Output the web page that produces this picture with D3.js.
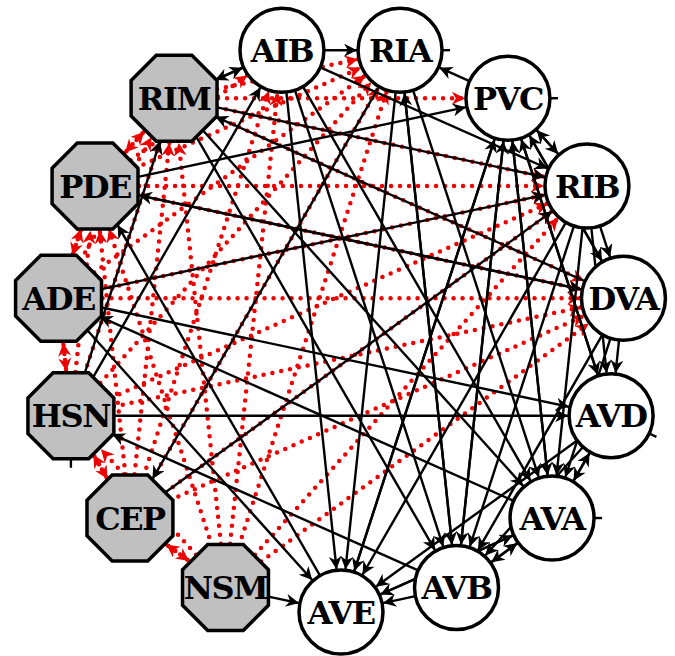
<!DOCTYPE html>
<html>
<head>
<meta charset="utf-8">
<script src="https://cdn.jsdelivr.net/npm/d3@7"></script>
<style>
  body { margin: 0; background: #fff; }
  svg { display: block; }
</style>
</head>
<body>
<div id="net"></div>
<script>
// neurons, clockwise from the bottom
const neurons = ["AVE", "NSM", "CEP", "HSN", "ADE", "PDE", "RIM", "AIB",
                 "RIA", "PVC", "RIB", "DVA", "AVD", "AVA", "AVB"];
// monoaminergic neurons drawn as grey octagons
const amines = ["NSM", "CEP", "HSN", "ADE", "PDE", "RIM"];

// synaptic connections (black, solid) source -> target
const synSource = ["AIB","AIB","RIM","AIB","AIB","AIB","AIB","RIM","RIM","RIM","DVA","HSN","HSN",
                   "PDE","PDE","DVA","AVE","ADE","AVA","ADE","ADE","HSN","AVB","RIA","CEP","NSM",
                   "RIA","RIA","RIA","PVC","RIB","PVC","RIB","PVC","PVC","PVC","PVC","AVA","AVE",
                   "AVD","AVB","RIB","RIB","RIB","RIB","DVA","DVA","DVA","DVA","AVD","AVA","AVD",
                   "AVD","AVA","AVB","AVA","AVB","AVE","AVB","PVC"];
const synTarget = ["RIA","RIM","AIB","AVE","AVB","AVA","RIB","AVB","AVA","RIB","RIM","RIM","AIB",
                   "PVC","DVA","PDE","PDE","AVD","ADE","AVE","RIB","AVD","HSN","CEP","RIB","AVE",
                   "AVE","AVB","AVA","RIB","PVC","AVE","AVE","AVB","AVA","AVD","DVA","PVC","PVC",
                   "PVC","PVC","DVA","AVD","AVA","AVB","AVD","AVA","AVB","PVC","AVA","AVD","AVB",
                   "AVE","AVB","AVA","AVE","AVE","AVA","RIA","RIA"];

// extrasynaptic monoamine connections (red, dotted) source -> target
const extSource = ["RIM","RIM","RIM","RIM","RIM",
                   "PDE","PDE","PDE","PDE","PDE","PDE",
                   "ADE","ADE","ADE","ADE","ADE","ADE",
                   "HSN","HSN","HSN","HSN","HSN","HSN","HSN",
                   "CEP","CEP","CEP","CEP","CEP","CEP","CEP","CEP",
                   "NSM","NSM","NSM","NSM","NSM","NSM","NSM","NSM"];
const extTarget = ["PVC","RIA","RIB","DVA","PDE",
                   "RIA","RIB","DVA","RIM","ADE","AIB",
                   "RIA","RIB","DVA","PDE","HSN","RIM",
                   "RIA","RIB","DVA","ADE","CEP","RIM","PDE",
                   "RIA","RIB","DVA","HSN","NSM","RIM","PDE","AIB",
                   "AIB","RIB","DVA","CEP","PDE","RIM","HSN","RIA"];

// short self-connection stubs: neuron and outward direction (degrees)
const stubNode = ["RIA", "PVC", "AVD", "AVA", "HSN"];
const stubDir = [0, 0, 25, 0, 90];

const width = 675, height = 656;
const cx = 341, cy = 328, ringR = 284;
const nodeR = 42, octR = 46.5;

const svg = d3.select("#net").append("svg")
  .attr("width", width)
  .attr("height", height);

const angle = d3.scaleLinear()
  .domain([0, neurons.length])
  .range([Math.PI / 2, Math.PI / 2 + 2 * Math.PI]);

const pos = {};
neurons.forEach(function(n, i) {
  pos[n] = { x: cx + ringR * Math.cos(angle(i)), y: cy + ringR * Math.sin(angle(i)) };
});

function radiusOf(n) { return amines.includes(n) ? 44 : nodeR; }

function link(s, t, pad) {
  const a = pos[s], b = pos[t];
  const dx = b.x - a.x, dy = b.y - a.y;
  const d = Math.sqrt(dx * dx + dy * dy);
  const ux = dx / d, uy = dy / d;
  const rs = radiusOf(s), rt = radiusOf(t) + (pad || 0);
  return { x1: a.x + ux * rs, y1: a.y + uy * rs, x2: b.x - ux * rt, y2: b.y - uy * rt };
}

const defs = svg.append("defs");
[["arrowBlack", "#000"], ["arrowRed", "#ee0000"]].forEach(function(m) {
  defs.append("marker")
    .attr("id", m[0])
    .attr("viewBox", "0 0 10 10")
    .attr("refX", 10)
    .attr("refY", 5)
    .attr("markerUnits", "userSpaceOnUse")
    .attr("markerWidth", 17)
    .attr("markerHeight", 13)
    .attr("orient", "auto")
    .append("path")
    .attr("d", "M0,0 L10,5 L0,10 L3,5 Z")
    .attr("fill", m[1]);
});

// red dotted extrasynaptic edges
const ext = extSource.map(function(s, i) { return link(s, extTarget[i], 1); });
svg.append("g").selectAll("line")
  .data(ext)
  .enter().append("line")
  .attr("x1", d => d.x1).attr("y1", d => d.y1)
  .attr("x2", d => d.x2).attr("y2", d => d.y2)
  .attr("stroke", "#ee0000")
  .attr("stroke-width", 4.5)
  .attr("stroke-linecap", "round")
  .attr("stroke-dasharray", "0 9")
  .attr("marker-end", "url(#arrowRed)");

// black synaptic edges
const syn = synSource.map(function(s, i) { return link(s, synTarget[i], 1); });
svg.append("g").selectAll("line")
  .data(syn)
  .enter().append("line")
  .attr("x1", d => d.x1).attr("y1", d => d.y1)
  .attr("x2", d => d.x2).attr("y2", d => d.y2)
  .attr("stroke", "#000")
  .attr("stroke-width", 2.4)
  .attr("marker-end", "url(#arrowBlack)");

// stubs
svg.append("g").selectAll("line")
  .data(stubNode)
  .enter().append("line")
  .attr("x1", (d, i) => pos[d].x + radiusOf(d) * Math.cos(stubDir[i] * Math.PI / 180))
  .attr("y1", (d, i) => pos[d].y + radiusOf(d) * Math.sin(stubDir[i] * Math.PI / 180))
  .attr("x2", (d, i) => pos[d].x + (radiusOf(d) + 8) * Math.cos(stubDir[i] * Math.PI / 180))
  .attr("y2", (d, i) => pos[d].y + (radiusOf(d) + 8) * Math.sin(stubDir[i] * Math.PI / 180))
  .attr("stroke", "#000")
  .attr("stroke-width", 2.4);

// nodes
const octagon = d3.range(8).map(function(k) {
  const a = Math.PI / 8 + k * Math.PI / 4;
  return [octR * Math.cos(a), octR * Math.sin(a)];
});

const node = svg.append("g").selectAll("g")
  .data(neurons)
  .enter().append("g")
  .attr("transform", d => "translate(" + pos[d].x + "," + pos[d].y + ")");

node.filter(d => amines.includes(d))
  .append("polygon")
  .attr("points", octagon.map(p => p.join(",")).join(" "))
  .attr("fill", "#c0c0c0")
  .attr("stroke", "#000")
  .attr("stroke-width", 3.5);

node.filter(d => !amines.includes(d))
  .append("circle")
  .attr("r", nodeR)
  .attr("fill", "#fff")
  .attr("stroke", "#000")
  .attr("stroke-width", 3.5);

node.append("text")
  .style("font-family", "DejaVu Serif, Liberation Serif, serif")
  .style("font-weight", "bold")
  .style("font-size", "32px")
  .style("letter-spacing", "-1.5px")
  .attr("text-anchor", "middle")
  .attr("dy", "0.36em")
  .text(d => d);
</script>
</body>
</html>
